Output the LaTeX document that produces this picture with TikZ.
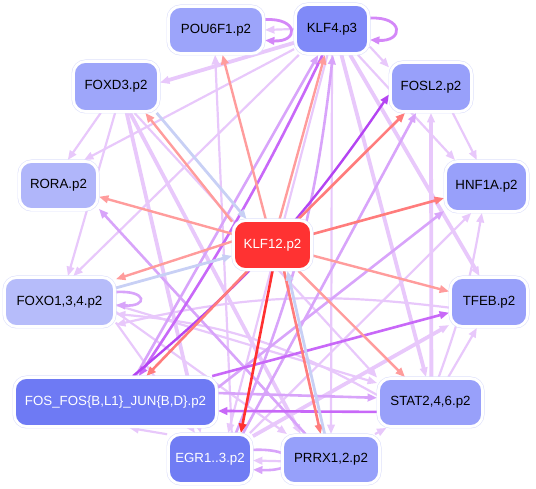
\documentclass[tikz,border=0pt]{standalone}
\usepackage{fontspec}
\setmainfont{Liberation Sans}
\usetikzlibrary{arrows.meta,backgrounds}
\definecolor{pale}{HTML}{DDE0FB}
\definecolor{cpou}{HTML}{9CA4FA}
\definecolor{cklf}{HTML}{808AF8}
\definecolor{cfoxd}{HTML}{9EA6FA}
\definecolor{cfosl}{HTML}{98A0FA}
\definecolor{crora}{HTML}{B0B6FA}
\definecolor{chnf}{HTML}{98A0FA}
\definecolor{ckred}{HTML}{FF3232}
\definecolor{cfoxo}{HTML}{B6BCFA}
\definecolor{ctfeb}{HTML}{98A0FA}
\definecolor{cfos}{HTML}{6E7AF4}
\definecolor{cstat}{HTML}{98A0FA}
\definecolor{cegr}{HTML}{707CF4}
\definecolor{cprrx}{HTML}{96A0FA}
\definecolor{wkc}{HTML}{E8C8FB}
\definecolor{mdc}{HTML}{D8A4FA}
\definecolor{stc}{HTML}{C868F8}
\definecolor{vsc}{HTML}{B444F2}
\definecolor{lpc}{HTML}{D488F8}
\definecolor{rlc}{HTML}{FF9C9C}
\definecolor{rmc}{HTML}{FF7C7C}
\definecolor{rsc}{HTML}{FF3030}
\definecolor{blc}{HTML}{C8D0F5}
\begin{document}
\begin{tikzpicture}[x=1pt,y=1pt,
  box/.style={rectangle, rounded corners=12pt, inner sep=0pt,
    font=\fontsize{13.3}{15}\selectfont,
    preaction={draw=pale,line width=4pt}, draw=white, line width=2.8pt},
  tip/.style={-{Triangle[length=9.5pt,width=7.5pt]}},
  wk/.style={tip, draw=wkc, line width=2.2pt},
  wkt/.style={tip, draw=wkc, line width=3.8pt},
  md/.style={tip, draw=mdc, line width=2.6pt},
  st/.style={tip, draw=stc, line width=2.6pt},
  vs/.style={tip, draw=vsc, line width=2.4pt},
  lp/.style={tip, draw=lpc, line width=2.8pt},
  rl/.style={tip, draw=rlc, line width=2.4pt},
  rm/.style={tip, draw=rmc, line width=2.6pt},
  rs/.style={tip, draw=rsc, line width=2.6pt},
  bl/.style={tip, draw=blc, line width=2.8pt}
]
\useasboundingbox (0,0) rectangle (536,489);

\node[box, fill=cpou, minimum width=95pt, minimum height=47pt] (pou) at (216,459) {POU6F1.p2};
\node[box, fill=cklf, minimum width=73pt, minimum height=49pt] (klf4) at (332,460) {KLF4.p3};
\node[box, fill=cfoxd, minimum width=85pt, minimum height=50pt] (foxd3) at (116,402.5) {FOXD3.p2};
\node[box, fill=cfosl, minimum width=81pt, minimum height=49pt] (fosl2) at (431,402) {FOSL2.p2};
\node[box, fill=crora, minimum width=78pt, minimum height=48pt] (rora) at (58.5,303.5) {RORA.p2};
\node[box, fill=chnf, minimum width=82pt, minimum height=50pt] (hnf1a) at (486.5,302.5) {HNF1A.p2};
\node[box, fill=ckred, text=white, minimum width=78pt, minimum height=49pt] (k12) at (272.5,244) {KLF12.p2};
\node[box, fill=cfoxo, minimum width=110pt, minimum height=49pt] (foxo) at (59.5,187) {FOXO1,3,4.p2};
\node[box, fill=ctfeb, minimum width=77pt, minimum height=49pt] (tfeb) at (489,187) {TFEB.p2};
\node[box, fill=cfos, text=white, minimum width=202pt, minimum height=49pt] (fos) at (115.5,87) {FOS\_FOS\{B,L1\}\_JUN\{B,D\}.p2};
\node[box, fill=cstat, minimum width=104pt, minimum height=48pt] (stat) at (430.5,86.5) {STAT2,4,6.p2};
\node[box, fill=cegr, text=white, minimum width=83pt, minimum height=49pt] (egr) at (210,30) {EGR1..3.p2};
\node[box, fill=cprrx, minimum width=97pt, minimum height=48pt] (prrx) at (331,29.5) {PRRX1,2.p2};

\begin{scope}[on background layer]
% weak purple
\draw[wk] (klf4.180) -- (pou.0);
\draw[wk] (egr.50) -- (pou.-92);
\draw[wkt] (klf4.200) -- (foxd3.5);
\draw[wk] (klf4.208) -- (rora.45);
\draw[wk] (klf4.218) -- (foxo.62);
\draw[wkt] (klf4.-70) -- (stat.100);
\draw[wkt] (klf4.-55) -- (tfeb.110);
\draw[wk] (klf4.-45) -- (hnf1a.140);
\draw[wk] (klf4.-90) -- (prrx.90);
\draw[wk] (klf4.-25) -- (fosl2.155);
\draw[wk] (klf4.-100) -- (egr.55);
\draw[wkt] (stat.88) -- (fosl2.-90);
\draw[wk] (fosl2.-50) -- (hnf1a.110);
\draw[wk] (egr.33) -- (hnf1a.-120);
\draw[wk] (stat.72) to[bend right=5] (hnf1a.-100);
\draw[wkt] (egr.28) -- (tfeb.-150);
\draw[wk] (stat.55) -- (tfeb.-115);
\draw[wk] (foxo.-3) -- (stat.160);
\draw[wk] (prrx.30) -- (stat.-150);
\draw[wk] (stat.172) to[bend right=12] (foxo.-12);
\draw[wk] (tfeb.-172) to[bend right=10] (foxo.-22);
\draw[wk] (egr.150) -- (fos.-62);
\draw[wk] (prrx.-178) -- (egr.-2);
\draw[wk] (foxd3.-120) -- (rora.70);
\draw[wk] (foxd3.-92) -- (foxo.72);
\draw[wkt] (foxd3.-62) -- (prrx.140);
\draw[wkt] (foxd3.-68) -- (egr.110);
\draw[wk] (foxd3.-55) -- (stat.155);
\draw[wk] (foxo.-20) -- (egr.120);
\draw[wk] (foxo.-10) -- (prrx.150);
% medium / strong purple
\draw[md] (prrx.135) -- (rora.-30);
\draw[md] (fos.52) -- (klf4.-118);
\draw[md] (egr.45) to[bend right=8] (klf4.-88);
\draw[md] (egr.38) -- (fosl2.-120);
\draw[md] (fos.8) -- (hnf1a.-150);
\draw[md] (fos.5) -- (stat.175);
\draw[st] (klf4.-110) to[bend left=4] (fos.48);
\draw[vs] (fos.56) to[bend right=8] (fosl2.-170);
\draw[st] (fos.15) -- (tfeb.-165);
\draw[st] (stat.190) -- (fos.-5);
% self loops
\draw[lp] (pou.12) .. controls +(34,2) and +(34,-2) .. (pou.-12);
\draw[lp] (klf4.16) .. controls +(34,2) and +(34,-2) .. (klf4.-16);
\draw[md] (foxo.10) .. controls +(32,2) and +(32,-2) .. (foxo.-3);
\draw[md] (egr.12) .. controls +(48,2) and +(48,-2) .. (egr.-14);
% red and blue from/to KLF12
\draw[rl] (k12) -- (pou);
\draw[rl] (k12) -- (klf4);
\draw[rm] (k12) -- (fosl2);
\draw[rm] (k12) -- (hnf1a);
\draw[rl] (k12) -- (tfeb);
\draw[rl] (k12) -- (stat);
\draw[rm] (k12.-66) -- (prrx.112);
\draw[bl] (prrx.104) -- (k12.-60);
\draw[rs] (k12.-90) -- (egr.40);
\draw[rm] (k12) -- (fos.40);
\draw[rl] (k12.175) -- (foxo.22);
\draw[bl] (foxo.14) -- (k12.195);
\draw[rl] (k12) -- (rora);
\draw[rl] (k12.150) -- (foxd3.-42);
\draw[bl] (foxd3.-33) -- (k12.135);
\end{scope}
\end{tikzpicture}
\end{document}
